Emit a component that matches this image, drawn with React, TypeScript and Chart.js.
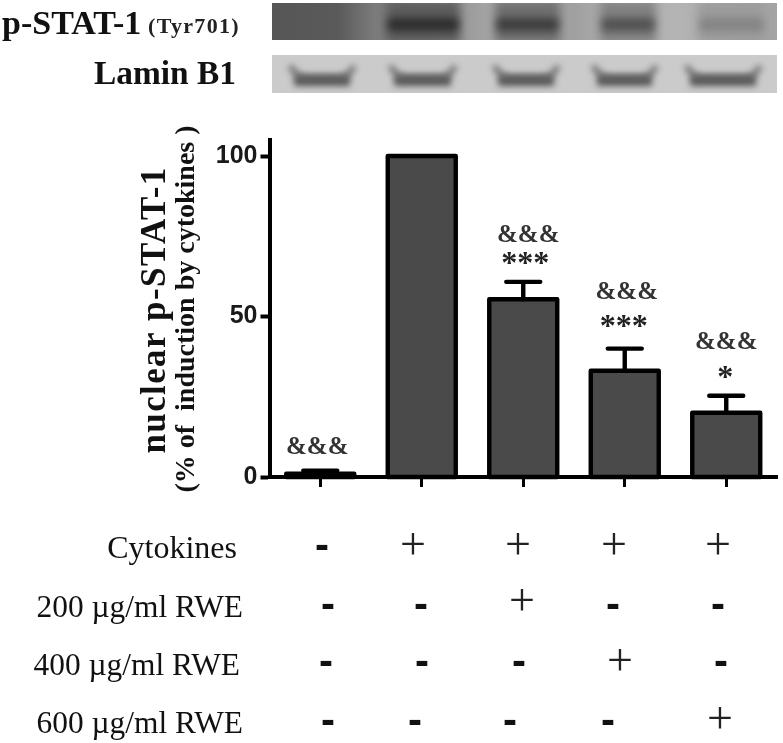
import React, { useEffect, useRef } from "react";
import { Chart, registerables } from "chart.js";

Chart.register(...registerables);

const categories = ["Control", "Cytokines", "200 RWE", "400 RWE", "600 RWE"];
const values = [1, 100, 55.4, 33.1, 20];
const errorTops = [2, 100, 60.8, 40, 25.3];
const ampLabels = ["&&&", "", "&&&", "&&&", "&&&"];
const ampLevels = [9.1, 0, 75.1, 57.4, 42];
const ampShift = [-3, 0, 5, 2, 0];
const starLabels = ["", "", "***", "***", "*"];
const starLevels = [0, 0, 68, 48.4, 32.4];
const starShift = [0, 0, 2, -1, -1];

const yTicks = [0, 50, 100];

const rowNames = ["Cytokines", "200 µg/ml RWE", "400 µg/ml RWE", "600 µg/ml RWE"];
const rowRight = [237, 243, 240, 243];
const rowY = [550, 609, 667, 725];
const rowFont = [32, 31.4, 31.4, 31.4];
const rowSigns = [
  ["-", "+", "+", "+", "+"],
  ["-", "-", "+", "-", "-"],
  ["-", "-", "-", "+", "-"],
  ["-", "-", "-", "-", "+"],
];
const rowSignX = [
  [322, 413, 518, 614, 718],
  [328, 421, 522, 613, 718],
  [326, 422, 519, 620, 721],
  [328, 415, 510, 608, 720],
];
const rowPlusY = [547, 603, 663, 721];
const rowMinusY = [547, 606, 663, 722];

const stripBackground: [number, string][] = [
  [0, "#565656"],
  [0.13, "#5a5a5a"],
  [0.2, "#7a7a7a"],
  [0.38, "#9a9a9a"],
  [0.44, "#a6a6a6"],
  [0.6, "#a0a0a0"],
  [0.66, "#ababab"],
  [0.8, "#b4b4b4"],
  [1, "#a4a4a4"],
];
const phosphoLanes = [
  [386, 460, "#5e5e5e", "#2c2c2c"],
  [495, 560, "#707070", "#3c3c3c"],
  [600, 656, "#828282", "#505050"],
  [698, 765, "#9c9c9c", "#838383"],
];
const laminLanes = [
  [290, 354],
  [390, 455],
  [494, 558],
  [593, 656],
  [686, 760],
];

const SERIF = '"Liberation Serif"';

function text(
  ctx: CanvasRenderingContext2D,
  s: string,
  x: number,
  y: number,
  font: string,
  align: CanvasTextAlign = "center",
  color = "#111",
  spacing = "0px"
) {
  ctx.font = font;
  ctx.fillStyle = color;
  ctx.textAlign = align;
  ctx.textBaseline = "middle";
  (ctx as any).letterSpacing = spacing;
  ctx.fillText(s, x, y);
  (ctx as any).letterSpacing = "0px";
}

const overlay = {
  id: "overlay",
  afterDatasetsDraw(chart: any) {
    const { ctx, scales } = chart;
    const meta = chart.getDatasetMeta(0);
    ctx.save();
    ctx.strokeStyle = "#000";
    ctx.lineJoin = "round";
    ctx.lineCap = "round";
    meta.data.forEach((bar: any, i: number) => {
      const left = bar.x - bar.width / 2;
      ctx.lineWidth = 4.4;
      ctx.strokeRect(left, bar.y, bar.width, scales.y.getPixelForValue(0) - bar.y);
      if (errorTops[i] > values[i]) {
        const top = scales.y.getPixelForValue(errorTops[i]);
        ctx.beginPath();
        ctx.moveTo(bar.x, bar.y);
        ctx.lineTo(bar.x, top);
        ctx.moveTo(bar.x - 17, top);
        ctx.lineTo(bar.x + 17, top);
        ctx.stroke();
      }
    });
    ctx.restore();
  },
  afterDraw(chart: any) {
    const { ctx, scales } = chart;
    ctx.save();
    drawPhospho(ctx);
    drawLamin(ctx);
    ctx.filter = "blur(0.5px)";
    text(ctx, "p-STAT-1", 2, 25, `bold 34px ${SERIF}`, "left");
    text(ctx, "(Tyr701)", 148, 27, `bold 22px ${SERIF}`, "left", "#222", "1.3px");
    text(ctx, "Lamin B1", 94, 75, `bold 33.4px ${SERIF}`, "left", "#111");

    ctx.save();
    ctx.translate(156, 310);
    ctx.rotate(-Math.PI / 2);
    text(ctx, "nuclear p-STAT-1", 0, 0, `bold 35px ${SERIF}`, "center", "#111", "1.4px");
    ctx.restore();
    ctx.save();
    ctx.translate(187, 309);
    ctx.rotate(-Math.PI / 2);
    text(ctx, "(% of  induction by cytokines )", 0, 0, `bold 28px ${SERIF}`);
    ctx.restore();

    categories.forEach((c, i) => {
      const x = scales.x.getPixelForValue(i);
      if (ampLabels[i])
        text(ctx, ampLabels[i], x + ampShift[i], scales.y.getPixelForValue(ampLevels[i]), `bold 25px ${SERIF}`, "center", "#333");
      if (starLabels[i])
        text(ctx, starLabels[i], x + starShift[i], scales.y.getPixelForValue(starLevels[i]) + 6, `bold 32px ${SERIF}`, "center", "#222");
    });

    rowNames.forEach((n, r) => {
      text(ctx, n, rowRight[r], rowY[r], `${rowFont[r]}px ${SERIF}`, "right", "#111");
      rowSigns[r].forEach((s, c) => {
        if (s === "+") text(ctx, "+", rowSignX[r][c], rowPlusY[r], `46px ${SERIF}`, "center", "#222");
        else text(ctx, "-", rowSignX[r][c], rowMinusY[r], `bold 42px "Liberation Sans"`, "center", "#111");
      });
    });
    ctx.restore();
  },
};

function drawPhospho(ctx: CanvasRenderingContext2D) {
  ctx.save();
  ctx.beginPath();
  ctx.rect(272, 3, 505, 37);
  ctx.clip();
  const g = ctx.createLinearGradient(272, 0, 777, 0);
  stripBackground.forEach(([p, c]) => g.addColorStop(p, c));
  ctx.fillStyle = g;
  ctx.fillRect(272, 3, 505, 37);
  ctx.filter = "blur(5px)";
  phosphoLanes.forEach(([a, b, body]) => {
    ctx.fillStyle = body as string;
    ctx.fillRect(a as number, 0, (b as number) - (a as number), 44);
  });
  ctx.filter = "blur(4px)";
  phosphoLanes.forEach(([a, b, , band]) => {
    ctx.fillStyle = band as string;
    ctx.fillRect((a as number) + 2, 18, (b as number) - (a as number) - 4, 13);
  });
  ctx.restore();
}

function drawLamin(ctx: CanvasRenderingContext2D) {
  ctx.save();
  ctx.beginPath();
  ctx.rect(272, 55, 505, 38);
  ctx.clip();
  ctx.fillStyle = "#cbcbcb";
  ctx.fillRect(272, 55, 505, 38);
  ctx.filter = "blur(3px)";
  laminLanes.forEach(([a, b]) => {
    ctx.strokeStyle = "#777777";
    ctx.lineWidth = 6;
    ctx.beginPath();
    ctx.moveTo(a, 66);
    ctx.quadraticCurveTo(a + 8, 78, a + 16, 78);
    ctx.lineTo(b - 16, 78);
    ctx.quadraticCurveTo(b - 6, 78, b, 66);
    ctx.stroke();
    ctx.fillStyle = "#5a5a5a";
    ctx.fillRect(a + 4, 75, b - a - 8, 11);
  });
  ctx.restore();
}

export default function App() {
  const ref = useRef<HTMLCanvasElement>(null);
  useEffect(() => {
    const chart = new Chart(ref.current as HTMLCanvasElement, {
      type: "bar",
      data: {
        labels: categories,
        datasets: [
          {
            data: values,
            backgroundColor: "#4a4a4a",
            borderWidth: 0,
            barThickness: 68,
          },
        ],
      },
      plugins: [overlay],
      options: {
        responsive: false,
        animation: false,
        layout: { padding: { top: 140, right: 6, left: 0, bottom: 0 } },
        plugins: { legend: { display: false }, tooltip: { enabled: false }, title: { display: false } },
        scales: {
          x: {
            afterFit: (s: any) => {
              s.height = 266;
            },
            ticks: { display: false },
            grid: {
              offset: false,
              drawOnChartArea: false,
              tickLength: 10,
              tickWidth: 3,
              tickColor: "#000",
            },
            border: { width: 4, color: "#000" },
          },
          y: {
            min: 0,
            max: 105,
            afterFit: (s: any) => {
              s.width = 269.5;
            },
            afterBuildTicks: (s: any) => {
              s.ticks = yTicks.map((value) => ({ value }));
            },
            ticks: {
              padding: 3,
              color: "#1a1a1a",
              font: { family: "Liberation Sans", weight: "bold", size: 25 },
            },
            grid: {
              drawOnChartArea: false,
              tickLength: 9,
              tickWidth: 4,
              tickColor: "#000",
            },
            border: { width: 4, color: "#000" },
          },
        },
      },
    } as any);
    return () => chart.destroy();
  }, []);
  return (
    <canvas
      ref={ref}
      width={783}
      height={743}
      style={{ position: "fixed", left: 0, top: 0, width: 783, height: 743, background: "#fff" }}
    />
  );
}
